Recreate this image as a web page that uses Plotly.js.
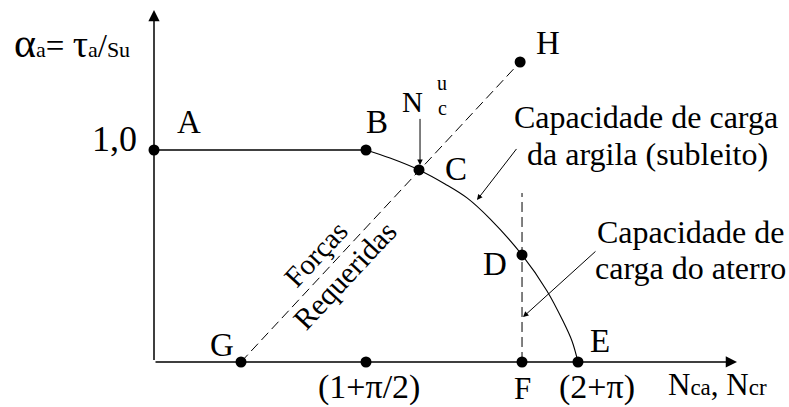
<!DOCTYPE html>
<html><head><meta charset="utf-8">
<script src="https://cdn.plot.ly/plotly-3.0.1.min.js"></script>
<style>html,body{margin:0;padding:0;background:#fff;}</style>
</head><body><div id="chart" style="width:789px;height:407px;"></div>
<script>
// Bearing capacity factor N_c against the mobilised interface shear ratio alpha_a
const NC_SMOOTH = 1 + Math.PI / 2;   // (1+π/2)
const NC_ROUGH = 2 + Math.PI;        // (2+π)

// clay (subgrade) capacity curve, B -> C -> D -> E
const clayCurveN = [NC_SMOOTH, 2.862, 3.214, 3.529, 3.796, 4.075, 4.463, 4.766, 4.960, 5.069, NC_ROUGH];
const clayCurveAlpha = [1.0, 0.962, 0.906, 0.840, 0.774, 0.675, 0.505, 0.335, 0.193, 0.099, 0];

// plateau A -> B at alpha_a = 1
const plateauN = [0, NC_SMOOTH];
const plateauAlpha = [1, 1];

// required forces line G -> H
const requiredN = [1.055, 4.44];
const requiredAlpha = [0, 1.415];

// fill capacity limit through F and D
const fillCapN = [4.463, 4.463];
const fillCapAlpha = [0, 0.797];

// named points
const pointLabels = ['A', 'B', 'C', 'D', 'E', 'F', 'G', 'H'];
const pointN = [0, NC_SMOOTH, 3.214, 4.463, NC_ROUGH, 4.463, 1.055, 4.44];
const pointAlpha = [1, 1, 0.906, 0.505, 0, 0, 0, 1.415];

// extra axis marker and tick labels
const axisMarkN = [NC_SMOOTH];
const axisMarkAlpha = [0];
const xTickVals = [NC_SMOOTH, NC_ROUGH];
const xTickText = ['(1+π/2)', '(2+π)'];
const yTickVals = [1];
const yTickText = ['1,0'];

const FONT = 'Liberation Serif, Times New Roman, serif';
const INK = '#000';

const traces = [
  {x: plateauN, y: plateauAlpha, mode: 'lines', line: {color: INK, width: 1.5}},
  {x: clayCurveN, y: clayCurveAlpha, mode: 'lines', line: {color: INK, width: 1.1, shape: 'spline', smoothing: 1}},
  {x: requiredN, y: requiredAlpha, mode: 'lines', line: {color: INK, width: 1, dash: '10px,5px'}},
  {x: fillCapN, y: fillCapAlpha, mode: 'lines', line: {color: INK, width: 1, dash: '10px,5px'}},
  {x: pointN.concat(axisMarkN), y: pointAlpha.concat(axisMarkAlpha), mode: 'markers',
   marker: {color: INK, size: 11}}
];

// label placement relative to each point, in pixels
const labelShift = {
  A: [35, 28], B: [11, 28], C: [37, 1], D: [-27, -9],
  E: [22, 21], F: [0, -27], G: [-19, 17], H: [28, 19]
};

const ann = [];
function txt(x, y, text, size, extra) {
  ann.push(Object.assign({x: x, y: y, xref: 'x', yref: 'y', text: text, showarrow: false,
    font: {family: FONT, size: size, color: INK}}, extra || {}));
}
function arrow(x, y, ax, ay, width, size) {
  ann.push({x: x, y: y, ax: ax, ay: ay, xref: 'x', yref: 'y', axref: 'x', ayref: 'y',
    text: ' ', font: {size: 1}, showarrow: true, arrowhead: 2, arrowsize: size,
    arrowwidth: width, arrowcolor: INK, standoff: 0, startstandoff: 0});
}

pointLabels.forEach((lab, i) => {
  txt(pointN[i], pointAlpha[i], lab, lab === 'F' ? 31 : 33,
      {xshift: labelShift[lab][0], yshift: labelShift[lab][1]});
});

// axes with arrowheads
arrow(7.07, 0, 0, 0, 1.5, 1.5);
arrow(0, 1.66, 0, 0, 1.5, 1.5);

// tick labels
txt(yTickVals[0], yTickVals[0], yTickText[0], 36, {x: 0, xanchor: 'right', xshift: -15, yshift: 11});
xTickVals.forEach((v, i) => txt(v, 0, xTickText[i], 34, {yshift: -25, xshift: i === 0 ? 3 : 19}));

// axis titles
txt(0, 1.505, '<span style="font-size:42px">α</span><span style="font-size:22px">a</span>= ' +
  '<span style="font-size:38px">τ</span><span style="font-size:22px">a</span>/' +
  '<span style="font-size:22px">Su</span>', 33, {xanchor: 'left', xshift: -142});
txt(NC_ROUGH, 0, 'N<span style="font-size:23px">ca</span>, N<span style="font-size:23px">cr</span>', 31,
  {xanchor: 'left', xshift: 88, yshift: -23});

// N_c^u with arrow down to C
txt(3.214, 0.906, 'N', 29, {xshift: -7, yshift: 68});
txt(3.214, 0.906, 'u', 20, {xshift: 23, yshift: 87});
txt(3.214, 0.906, 'c', 20, {xshift: 23, yshift: 62});
arrow(3.226, 0.929, 3.226, 1.156, 1, 1.1);

// clay capacity callout
txt(5.966, 1.156, 'Capacidade de carga', 32);
txt(5.99, 0.981, 'da argila (subleito)', 32);
arrow(3.917, 0.764, 4.414, 1.014, 1, 1.1);

// fill capacity callout
txt(6.512, 0.613, 'Capacidade de', 32);
txt(6.512, 0.443, 'carga do aterro', 32);
arrow(4.475, 0.212, 5.372, 0.528, 1, 1.1);

// required forces text along the dashed line
txt(1.055 + 0.905, 0.51, 'Forças', 29, {textangle: -47});
txt(1.055 + 1.25, 0.41, 'Requeridas', 30, {textangle: -47});

const layout = {
  width: 789, height: 407,
  margin: {l: 0, r: 0, t: 0, b: 0},
  paper_bgcolor: '#fff', plot_bgcolor: '#fff',
  showlegend: false,
  xaxis: {range: [-1.8676, 7.7007], visible: false, fixedrange: true},
  yaxis: {range: [-0.2123, 1.7075], visible: false, fixedrange: true},
  annotations: ann
};

Plotly.newPlot('chart', traces, layout, {staticPlot: true, displayModeBar: false});
</script>
</body></html>
